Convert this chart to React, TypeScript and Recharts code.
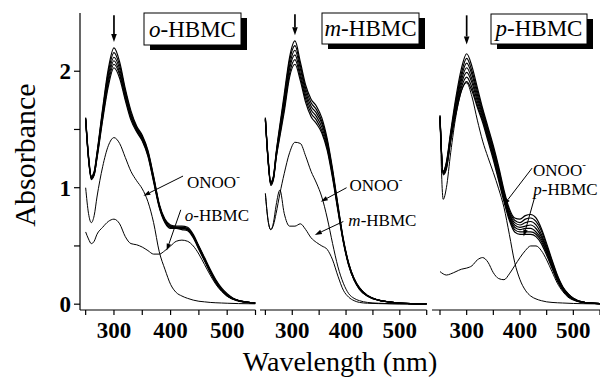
import React from "react";
import { LineChart, Line, XAxis, YAxis, ReferenceLine } from "recharts";

const FONT = '"Liberation Serif", "Times New Roman", serif';

const X_TICKS = [250, 300, 350, 400, 450, 500, 550];
const Y_TICKS = [0, 0.5, 1, 1.5, 2];
const Y_DOMAIN: [number, number] = [-0.05, 2.5];

// ---- o-HBMC panel ----
const O_WL = [250, 255, 260, 265, 270, 280, 290, 300, 310, 320, 330, 340, 350, 360, 370, 380, 390, 400, 410, 420, 430, 440, 450, 460, 470, 480, 490, 500, 520, 550];
const O_SCAN_1 = [1.6, 1.28, 1.1, 1.14, 1.3, 1.68, 2.02, 2.2, 2.08, 1.85, 1.66, 1.53, 1.45, 1.32, 1.1, 0.86, 0.73, 0.68, 0.67, 0.67, 0.66, 0.6, 0.5, 0.4, 0.3, 0.21, 0.14, 0.09, 0.03, 0.01];
const O_SCAN_2 = [1.6, 1.27, 1.09, 1.13, 1.29, 1.66, 1.99, 2.16, 2.05, 1.83, 1.64, 1.52, 1.44, 1.31, 1.09, 0.85, 0.72, 0.67, 0.66, 0.66, 0.65, 0.59, 0.49, 0.39, 0.29, 0.2, 0.13, 0.08, 0.03, 0.01];
const O_SCAN_3 = [1.59, 1.26, 1.09, 1.12, 1.28, 1.64, 1.96, 2.12, 2.02, 1.81, 1.62, 1.51, 1.43, 1.3, 1.08, 0.85, 0.72, 0.67, 0.66, 0.66, 0.65, 0.59, 0.49, 0.39, 0.29, 0.2, 0.13, 0.08, 0.03, 0.01];
const O_SCAN_4 = [1.59, 1.26, 1.08, 1.12, 1.27, 1.62, 1.93, 2.09, 1.99, 1.79, 1.61, 1.5, 1.42, 1.29, 1.07, 0.84, 0.71, 0.66, 0.66, 0.65, 0.64, 0.58, 0.48, 0.38, 0.28, 0.19, 0.12, 0.08, 0.03, 0.01];
const O_SCAN_5 = [1.58, 1.25, 1.08, 1.11, 1.26, 1.6, 1.9, 2.06, 1.97, 1.77, 1.6, 1.49, 1.41, 1.28, 1.06, 0.84, 0.71, 0.66, 0.65, 0.65, 0.64, 0.58, 0.48, 0.38, 0.28, 0.19, 0.12, 0.07, 0.03, 0.01];
const O_SCAN_6 = [1.58, 1.25, 1.07, 1.11, 1.25, 1.58, 1.87, 2.03, 1.94, 1.75, 1.58, 1.48, 1.4, 1.27, 1.05, 0.83, 0.7, 0.65, 0.65, 0.64, 0.63, 0.57, 0.47, 0.37, 0.27, 0.18, 0.12, 0.07, 0.03, 0.01];
const O_ONOO = [1.0, 0.78, 0.7, 0.76, 0.92, 1.18, 1.36, 1.43, 1.38, 1.26, 1.14, 1.06, 0.99, 0.88, 0.7, 0.45, 0.3, 0.17, 0.1, 0.07, 0.05, 0.035, 0.025, 0.02, 0.015, 0.012, 0.01, 0.008, 0.005, 0.003];
const O_PROBE = [0.62, 0.56, 0.52, 0.54, 0.6, 0.66, 0.71, 0.73, 0.69, 0.58, 0.52, 0.51, 0.49, 0.46, 0.43, 0.43, 0.46, 0.5, 0.54, 0.55, 0.54, 0.5, 0.43, 0.34, 0.25, 0.17, 0.11, 0.07, 0.025, 0.008];

// ---- m-HBMC panel ----
const M_WL = [250, 255, 260, 265, 270, 277, 285, 295, 305, 315, 325, 335, 345, 355, 365, 375, 385, 395, 405, 415, 425, 440, 460, 480, 500, 520, 550];
const M_SCAN_1 = [1.6, 1.26, 1.05, 1.1, 1.3, 1.54, 1.8, 2.12, 2.26, 2.08, 1.88, 1.76, 1.7, 1.6, 1.42, 1.16, 0.85, 0.56, 0.35, 0.22, 0.14, 0.075, 0.035, 0.02, 0.01, 0.005, 0.002];
const M_SCAN_2 = [1.6, 1.25, 1.04, 1.09, 1.29, 1.52, 1.77, 2.09, 2.22, 2.05, 1.85, 1.73, 1.67, 1.57, 1.4, 1.14, 0.84, 0.55, 0.35, 0.22, 0.14, 0.075, 0.035, 0.02, 0.01, 0.005, 0.002];
const M_SCAN_3 = [1.59, 1.25, 1.04, 1.09, 1.28, 1.5, 1.74, 2.05, 2.18, 2.02, 1.82, 1.7, 1.64, 1.55, 1.38, 1.13, 0.83, 0.55, 0.34, 0.21, 0.14, 0.07, 0.035, 0.02, 0.01, 0.005, 0.002];
const M_SCAN_4 = [1.59, 1.24, 1.03, 1.08, 1.27, 1.48, 1.71, 2.02, 2.14, 1.98, 1.79, 1.67, 1.61, 1.52, 1.36, 1.11, 0.82, 0.54, 0.34, 0.21, 0.13, 0.07, 0.035, 0.02, 0.01, 0.005, 0.002];
const M_SCAN_5 = [1.58, 1.24, 1.03, 1.08, 1.26, 1.46, 1.68, 1.98, 2.1, 1.95, 1.76, 1.64, 1.58, 1.49, 1.34, 1.1, 0.81, 0.54, 0.34, 0.21, 0.13, 0.07, 0.035, 0.02, 0.01, 0.005, 0.002];
const M_SCAN_6 = [1.58, 1.23, 1.02, 1.07, 1.25, 1.44, 1.65, 1.95, 2.06, 1.92, 1.73, 1.61, 1.55, 1.47, 1.32, 1.08, 0.8, 0.53, 0.33, 0.21, 0.13, 0.07, 0.035, 0.02, 0.01, 0.005, 0.002];
const M_ONOO = [0.95, 0.72, 0.64, 0.68, 0.78, 0.95, 1.12, 1.3, 1.39, 1.38, 1.27, 1.14, 1.04, 0.92, 0.74, 0.52, 0.32, 0.18, 0.09, 0.05, 0.03, 0.015, 0.008, 0.005, 0.003, 0.002, 0.001];
const M_PROBE = [0.95, 0.72, 0.64, 0.7, 0.85, 0.98, 0.78, 0.67, 0.67, 0.69, 0.64, 0.57, 0.53, 0.5, 0.47, 0.38, 0.24, 0.12, 0.06, 0.03, 0.015, 0.008, 0.005, 0.003, 0.002, 0.001, 0.001];

// ---- p-HBMC panel ----
const P_WL = [250, 256, 262, 270, 280, 290, 300, 310, 320, 330, 340, 350, 360, 370, 380, 390, 400, 410, 420, 430, 440, 450, 460, 470, 480, 490, 500, 520, 550];
const P_SCAN_1 = [1.62, 1.14, 1.22, 1.48, 1.78, 2.02, 2.15, 2.04, 1.86, 1.68, 1.52, 1.36, 1.18, 0.98, 0.82, 0.74, 0.73, 0.76, 0.77, 0.74, 0.65, 0.52, 0.38, 0.25, 0.15, 0.09, 0.05, 0.015, 0.004];
const P_SCAN_2 = [1.62, 1.14, 1.21, 1.46, 1.75, 1.98, 2.11, 2.0, 1.83, 1.66, 1.5, 1.34, 1.16, 0.96, 0.8, 0.72, 0.7, 0.73, 0.74, 0.71, 0.63, 0.5, 0.37, 0.24, 0.15, 0.09, 0.05, 0.015, 0.004];
const P_SCAN_3 = [1.61, 1.13, 1.2, 1.45, 1.73, 1.95, 2.07, 1.97, 1.8, 1.64, 1.48, 1.32, 1.14, 0.94, 0.78, 0.7, 0.68, 0.7, 0.71, 0.68, 0.6, 0.48, 0.35, 0.23, 0.14, 0.08, 0.045, 0.015, 0.004];
const P_SCAN_4 = [1.61, 1.13, 1.19, 1.44, 1.71, 1.92, 2.03, 1.93, 1.77, 1.62, 1.46, 1.3, 1.12, 0.93, 0.77, 0.68, 0.66, 0.67, 0.68, 0.65, 0.58, 0.47, 0.34, 0.22, 0.14, 0.08, 0.045, 0.015, 0.004];
const P_SCAN_5 = [1.6, 1.12, 1.18, 1.42, 1.68, 1.89, 1.99, 1.9, 1.74, 1.6, 1.44, 1.28, 1.1, 0.91, 0.75, 0.66, 0.64, 0.65, 0.65, 0.62, 0.56, 0.45, 0.33, 0.21, 0.13, 0.08, 0.045, 0.015, 0.004];
const P_SCAN_6 = [1.6, 1.12, 1.17, 1.41, 1.66, 1.86, 1.95, 1.86, 1.71, 1.58, 1.42, 1.26, 1.08, 0.9, 0.74, 0.64, 0.62, 0.62, 0.62, 0.6, 0.54, 0.44, 0.32, 0.21, 0.13, 0.07, 0.04, 0.015, 0.004];
const P_SCAN_7 = [1.59, 1.11, 1.16, 1.4, 1.64, 1.83, 1.91, 1.83, 1.69, 1.56, 1.4, 1.24, 1.06, 0.88, 0.72, 0.62, 0.6, 0.6, 0.6, 0.58, 0.52, 0.42, 0.31, 0.2, 0.12, 0.07, 0.04, 0.015, 0.004];
const P_ONOO = [1.6, 0.9, 1.0, 1.3, 1.62, 1.83, 1.9, 1.78, 1.58, 1.4, 1.26, 1.13, 0.99, 0.83, 0.6, 0.36, 0.21, 0.12, 0.07, 0.045, 0.03, 0.02, 0.015, 0.012, 0.01, 0.008, 0.006, 0.004, 0.002];
const P_PROBE = [0.28, 0.26, 0.25, 0.26, 0.28, 0.3, 0.31, 0.33, 0.38, 0.4, 0.36, 0.27, 0.22, 0.21, 0.26, 0.33, 0.4, 0.46, 0.5, 0.5, 0.46, 0.38, 0.28, 0.18, 0.11, 0.06, 0.035, 0.012, 0.004];

type Pointer = {
  from: [number, number];
  to: [number, number];
  italic?: string;
  text: string;
  sup?: boolean;
  dx: number;
  dy: number;
};

type PanelCfg = {
  id: string;
  wl: number[];
  scans: number[][];
  onoo: number[];
  probe: number[];
  xDomain: [number, number];
  left: number;
  width: number;
  margin: { top: number; right: number; bottom: number; left: number };
  showY: boolean;
  drop: { x: number; y1: number; y2: number };
  pointers: Pointer[];
};

const PANELS: PanelCfg[] = [
  {
    id: "o",
    wl: O_WL,
    scans: [O_SCAN_1, O_SCAN_2, O_SCAN_3, O_SCAN_4, O_SCAN_5, O_SCAN_6],
    onoo: O_ONOO,
    probe: O_PROBE,
    xDomain: [240, 550],
    left: 0,
    width: 260,
    margin: { top: 13, right: 4.5, bottom: 41, left: 20 },
    showY: true,
    drop: { x: 300, y1: 2.48, y2: 2.25 },
    pointers: [
      { from: [422, 1.1], to: [352, 0.93], text: "ONOO", sup: true, dx: 4, dy: 12 },
      { from: [418, 0.81], to: [393, 0.46], italic: "o", text: "-HBMC", dx: 4, dy: 11 },
    ],
  },
  {
    id: "m",
    wl: M_WL,
    scans: [M_SCAN_1, M_SCAN_2, M_SCAN_3, M_SCAN_4, M_SCAN_5, M_SCAN_6],
    onoo: M_ONOO,
    probe: M_PROBE,
    xDomain: [240, 550],
    left: 250,
    width: 180,
    margin: { top: 13, right: 3.3, bottom: 41, left: 10 },
    showY: false,
    drop: { x: 305, y1: 2.49, y2: 2.31 },
    pointers: [
      { from: [401, 1.0], to: [353, 0.88], text: "ONOO", sup: true, dx: 3, dy: 3 },
      { from: [395, 0.71], to: [342, 0.595], italic: "m", text: "-HBMC", dx: 5, dy: 5 },
    ],
  },
  {
    id: "p",
    wl: P_WL,
    scans: [P_SCAN_1, P_SCAN_2, P_SCAN_3, P_SCAN_4, P_SCAN_5, P_SCAN_6, P_SCAN_7],
    onoo: P_ONOO,
    probe: P_PROBE,
    xDomain: [235, 550],
    left: 422,
    width: 178,
    margin: { top: 13, right: 0, bottom: 41, left: 10 },
    showY: false,
    drop: { x: 300, y1: 2.48, y2: 2.23 },
    pointers: [
      { from: [422.6, 1.168], to: [369.3, 0.85], text: "ONOO", sup: true, dx: 1, dy: 8 },
      { from: [428.8, 0.94], to: [406.8, 0.58], italic: "p", text: "-HBMC", dx: -2, dy: 0 },
    ],
  },
];

function arrowHead(x1: number, y1: number, x2: number, y2: number, len: number, half: number) {
  const ang = Math.atan2(y2 - y1, x2 - x1);
  const bx = x2 - len * Math.cos(ang);
  const by = y2 - len * Math.sin(ang);
  const s = Math.sin(ang);
  const c = Math.cos(ang);
  return {
    bx,
    by,
    pts: `${x2},${y2} ${bx - half * s},${by + half * c} ${bx + half * s},${by - half * c}`,
  };
}

function pointerShape(ptr: Pointer) {
  return (p: any) => {
    const { x1, y1, x2, y2 } = p;
    const h = arrowHead(x1, y1, x2, y2, 7, 2.3);
    return (
      <g>
        <line x1={x1} y1={y1} x2={h.bx} y2={h.by} stroke="#000" strokeWidth={1} />
        <polygon points={h.pts} fill="#000" />
        <text x={x1 + ptr.dx} y={y1 + ptr.dy} fontFamily={FONT} fontSize={17} fill="#000">
          {ptr.italic && <tspan fontStyle="italic">{ptr.italic}</tspan>}
          <tspan>{ptr.text}</tspan>
          {ptr.sup && (
            <tspan dy={-8} fontSize={11}>
              -
            </tspan>
          )}
        </text>
      </g>
    );
  };
}

function dropShape(p: any) {
  const { x1, y1, x2, y2 } = p;
  const h = arrowHead(x1, y1, x2, y2, 8, 2.8);
  return (
    <g>
      <line x1={x1} y1={y1} x2={h.bx} y2={h.by} stroke="#000" strokeWidth={1.7} />
      <polygon points={h.pts} fill="#000" />
    </g>
  );
}

function Panel({ cfg }: { cfg: PanelCfg }) {
  const rows = cfg.wl.map((w, i) => {
    const r: Record<string, number> = { wl: w, onoo: cfg.onoo[i], probe: cfg.probe[i] };
    cfg.scans.forEach((s, k) => {
      r["s" + k] = s[i];
    });
    return r;
  });

  const tickStyle = { fill: "#000", fontSize: 23, fontWeight: "bold", fontFamily: FONT };

  return (
    <div style={{ position: "absolute", left: cfg.left, top: 0 }}>
      <LineChart width={cfg.width} height={381} data={rows} margin={cfg.margin}>
        <XAxis
          type="number"
          dataKey="wl"
          domain={cfg.xDomain}
          ticks={X_TICKS}
          interval={0}
          tickFormatter={(v: number) => (v % 100 === 0 ? String(v) : "")}
          height={30}
          tickSize={5}
          tickMargin={7}
          axisLine={{ stroke: "#000", strokeWidth: 1.2 }}
          tickLine={{ stroke: "#000", strokeWidth: 1.2 }}
          tick={tickStyle}
          allowDataOverflow
        />
        <YAxis
          type="number"
          domain={Y_DOMAIN}
          ticks={Y_TICKS}
          interval={0}
          hide={!cfg.showY}
          width={60}
          tickFormatter={(v: number) => (Number.isInteger(v) ? String(v) : "")}
          tickSize={6}
          tickMargin={3}
          axisLine={{ stroke: "#000", strokeWidth: 1.2 }}
          tickLine={{ stroke: "#000", strokeWidth: 1.2 }}
          tick={tickStyle}
          allowDataOverflow
        />
        {cfg.scans.map((_, k) => (
          <Line
            key={k}
            type="monotone"
            dataKey={"s" + k}
            stroke="#000"
            strokeWidth={1.2}
            dot={false}
            isAnimationActive={false}
          />
        ))}
        <Line type="monotone" dataKey="onoo" stroke="#000" strokeWidth={1} dot={false} isAnimationActive={false} />
        <Line type="monotone" dataKey="probe" stroke="#000" strokeWidth={1} dot={false} isAnimationActive={false} />
        <ReferenceLine
          segment={[
            { x: cfg.drop.x, y: cfg.drop.y1 },
            { x: cfg.drop.x, y: cfg.drop.y2 },
          ]}
          shape={dropShape}
        />
        {cfg.pointers.map((ptr, i) => (
          <ReferenceLine
            key={i}
            segment={[
              { x: ptr.from[0], y: ptr.from[1] },
              { x: ptr.to[0], y: ptr.to[1] },
            ]}
            shape={pointerShape(ptr)}
          />
        ))}
      </LineChart>
    </div>
  );
}

const TAGS = [
  { x: 144, y: 13, w: 97, h: 32, italic: "o" },
  { x: 322, y: 13, w: 97, h: 31, italic: "m" },
  { x: 491, y: 14, w: 96, h: 30, italic: "p" },
];

export default function App() {
  return (
    <div style={{ position: "absolute", left: 0, top: 0, width: 600, height: 381, background: "#fff", overflow: "hidden" }}>
      {PANELS.map((cfg) => (
        <Panel key={cfg.id} cfg={cfg} />
      ))}
      <svg width={600} height={381} style={{ position: "absolute", left: 0, top: 0, pointerEvents: "none" }}>
        {TAGS.map((t) => (
          <g key={t.italic}>
            <rect x={t.x + 6} y={t.y + 5} width={t.w} height={t.h} fill="#000" />
            <rect x={t.x} y={t.y} width={t.w} height={t.h} fill="#fff" stroke="#000" strokeWidth={1} />
            <text x={t.x + t.w / 2} y={t.y + t.h - 8} textAnchor="middle" fontFamily={FONT} fontSize={23} fill="#000">
              <tspan fontStyle="italic">{t.italic}</tspan>
              <tspan>-HBMC</tspan>
            </text>
          </g>
        ))}
        <text
          x={35}
          y={155}
          transform="rotate(-90, 35, 155)"
          textAnchor="middle"
          fontFamily={FONT}
          fontSize={30}
          fill="#000"
        >
          Absorbance
        </text>
        <text x={340} y={371} textAnchor="middle" fontFamily={FONT} fontSize={28} fill="#000">
          Wavelength (nm)
        </text>
      </svg>
    </div>
  );
}
